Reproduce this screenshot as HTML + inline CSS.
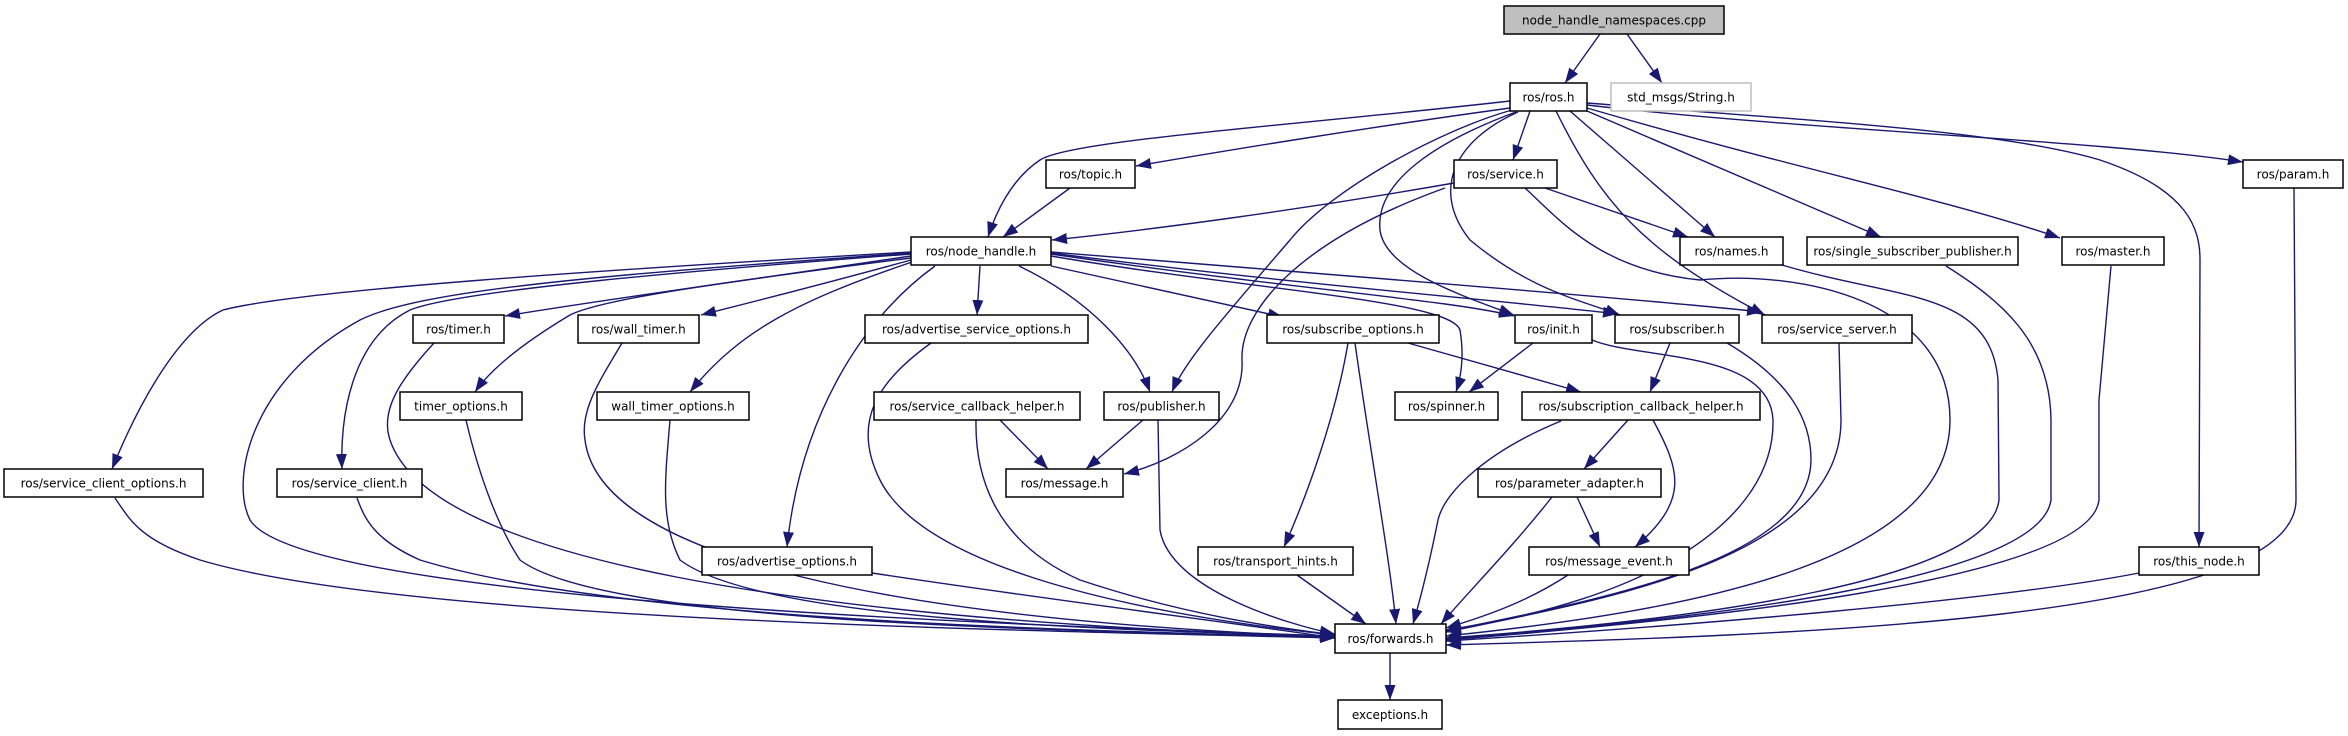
<!DOCTYPE html>
<html><head><meta charset="utf-8"><style>
html,body{margin:0;padding:0;background:#fff;}
svg{display:block;}
text{font-family:"DejaVu Sans","Liberation Sans",sans-serif;font-size:12px;fill:#000;text-anchor:middle;}
.e{fill:none;stroke:#191970;stroke-width:1.4;}
.b{fill:#fff;stroke:#000;stroke-width:1.5;}
</style></head><body>
<svg width="2348" height="736" viewBox="0 0 2348 736" xmlns="http://www.w3.org/2000/svg">
<defs><marker id="a" markerUnits="userSpaceOnUse" markerWidth="16" markerHeight="11" refX="15" refY="5.5" orient="auto"><path d="M0,0 L15,5.5 L0,11 z" fill="#191970"/></marker></defs>
<g class="e" marker-end="url(#a)">
<path d="M1600,34 L1565,83"/>
<path d="M1627,34 L1662,83"/>
<path d="M1510,101 C1300,125 1070,140 1040,160 C1010,180 995,215 988,237"/>
<path d="M1510,108 C1350,130 1230,150 1136,166"/>
<path d="M1070,188 L1003,237"/>
<path d="M1454,183 C1300,210 1150,230 1052,240"/>
<path d="M1530,111 L1513,160"/>
<path d="M1512,110 C1440,130 1330,190 1290,240 C1230,310 1185,360 1172,392"/>
<path d="M1516,112 C1440,140 1375,180 1380,230 C1385,270 1460,295 1514,315"/>
<path d="M1445,188 C1300,240 1240,310 1242,360 C1245,420 1180,460 1124,474"/>
<path d="M1518,112 C1455,140 1430,190 1470,240 C1530,290 1580,300 1620,315"/>
<path d="M1545,188 L1688,237"/>
<path d="M1570,111 L1715,237"/>
<path d="M1556,111 C1600,200 1640,250 1765,315"/>
<path d="M1587,111 L1881,237"/>
<path d="M1587,108 C1800,170 1950,200 2060,238"/>
<path d="M1587,105 C1800,130 2100,140 2243,162"/>
<path d="M1587,103 C1800,120 2000,130 2100,160 C2190,190 2200,230 2200,260 L2199,547"/>
<path d="M1525,188 C1560,220 1600,270 1700,280 C1800,270 1950,300 1950,420 C1950,560 1700,610 1446,636"/>
<path d="M1782,265 C1900,300 1990,290 1998,380 L1999,500 C1990,580 1700,620 1446,638"/>
<path d="M1946,266 C2000,300 2050,340 2051,420 L2051,500 C2040,580 1700,620 1446,639"/>
<path d="M2111,266 L2099,400 L2099,500 C2090,580 1700,620 1446,640"/>
<path d="M2139,573 C2000,600 1700,625 1446,641"/>
<path d="M2294,188 L2296,500 C2296,620 1800,635 1446,645"/>
<path d="M1839,343 L1841,420 C1841,560 1600,600 1446,632"/>
<path d="M1727,343 C1790,380 1811,420 1811,460 C1810,560 1600,600 1446,631"/>
<path d="M1592,340 C1640,360 1770,350 1773,420 C1775,520 1650,600 1446,630"/>
<path d="M1561,421 C1490,450 1445,490 1438,520 C1430,560 1420,600 1413,624"/>
<path d="M1355,343 C1370,450 1390,560 1396,624"/>
<path d="M1348,343 C1335,420 1305,500 1284,547"/>
<path d="M1408,343 L1581,392"/>
<path d="M1533,343 L1469,392"/>
<path d="M1670,343 L1650,392"/>
<path d="M1051,256 C1250,290 1450,300 1460,330 C1465,360 1460,380 1456,392"/>
<path d="M1051,254 C1300,290 1450,300 1514,316"/>
<path d="M1051,253 C1300,285 1500,300 1618,314"/>
<path d="M1051,252 C1400,280 1650,300 1762,312"/>
<path d="M1051,266 L1283,317"/>
<path d="M1019,266 C1090,300 1135,350 1150,392"/>
<path d="M980,266 L977,315"/>
<path d="M935,266 C860,320 800,420 787,547"/>
<path d="M912,262 C800,300 740,330 690,392"/>
<path d="M911,260 C820,285 760,300 701,315"/>
<path d="M911,258 C700,285 600,300 570,315 C520,345 490,370 475,392"/>
<path d="M911,256 C750,280 600,300 505,316"/>
<path d="M911,254 C700,270 460,290 410,310 C350,340 340,420 342,469"/>
<path d="M911,252 C600,270 300,290 223,310 C180,330 140,400 112,469"/>
<path d="M911,253 C600,275 420,290 360,320 C250,380 230,480 250,520 C300,600 1000,625 1335,636"/>
<path d="M434,343 C400,380 380,410 390,440 C430,560 800,620 1335,637"/>
<path d="M622,343 C600,380 580,410 585,440 C600,560 900,620 1335,637"/>
<path d="M466,420 C480,480 500,530 520,560 C600,620 1000,630 1335,637"/>
<path d="M670,420 C665,480 660,520 680,560 C760,620 1100,630 1335,636"/>
<path d="M115,498 C130,520 140,540 200,560 C400,620 1000,630 1335,638"/>
<path d="M357,498 C365,520 375,540 420,560 C600,615 1000,630 1335,637"/>
<path d="M931,343 C880,380 850,420 880,480 C920,560 1100,610 1335,635"/>
<path d="M872,573 C1050,600 1250,625 1335,638"/>
<path d="M976,420 C975,470 990,540 1080,580 C1200,620 1300,630 1335,635"/>
<path d="M1158,420 L1160,530 C1170,590 1290,625 1335,634"/>
<path d="M1000,420 L1048,469"/>
<path d="M1143,420 L1086,469"/>
<path d="M1297,575 L1366,624"/>
<path d="M1577,497 L1600,547"/>
<path d="M1653,420 C1680,470 1690,500 1635,547"/>
<path d="M1628,420 L1584,469"/>
<path d="M1552,497 C1510,550 1470,590 1441,624"/>
<path d="M1568,575 C1530,600 1490,615 1446,628"/>
<path d="M1390,653 L1390,700"/>
</g>
<g>
<rect x="1504" y="6" width="220" height="28" fill="#bfbfbf" stroke="#000" stroke-width="1.5"/><text x="1614" y="24.5">node_handle_namespaces.cpp</text>
<rect x="1611" y="83" width="140" height="28" fill="#fff" stroke="#bfbfbf" stroke-width="1.5"/><text x="1681" y="101.5">std_msgs/String.h</text>
</g>
<g>
<rect class="b" x="1510" y="83" width="77" height="28"/><text x="1548.5" y="101.5">ros/ros.h</text>
<rect class="b" x="1046" y="160" width="89" height="28"/><text x="1090.5" y="178.5">ros/topic.h</text>
<rect class="b" x="1454" y="160" width="103" height="28"/><text x="1505.5" y="178.5">ros/service.h</text>
<rect class="b" x="2243" y="160" width="100" height="28"/><text x="2293" y="178.5">ros/param.h</text>
<rect class="b" x="911" y="237" width="140" height="28"/><text x="981" y="255.5">ros/node_handle.h</text>
<rect class="b" x="1680" y="237" width="103" height="28"/><text x="1731.5" y="255.5">ros/names.h</text>
<rect class="b" x="1807" y="237" width="211" height="28"/><text x="1912.5" y="255.5">ros/single_subscriber_publisher.h</text>
<rect class="b" x="2062" y="237" width="102" height="28"/><text x="2113" y="255.5">ros/master.h</text>
<rect class="b" x="413" y="315" width="91" height="28"/><text x="458.5" y="333.5">ros/timer.h</text>
<rect class="b" x="578" y="315" width="121" height="28"/><text x="638.5" y="333.5">ros/wall_timer.h</text>
<rect class="b" x="865" y="315" width="223" height="28"/><text x="976.5" y="333.5">ros/advertise_service_options.h</text>
<rect class="b" x="1267" y="315" width="172" height="28"/><text x="1353" y="333.5">ros/subscribe_options.h</text>
<rect class="b" x="1515" y="315" width="77" height="28"/><text x="1553.5" y="333.5">ros/init.h</text>
<rect class="b" x="1615" y="315" width="124" height="28"/><text x="1677" y="333.5">ros/subscriber.h</text>
<rect class="b" x="1762" y="315" width="150" height="28"/><text x="1837" y="333.5">ros/service_server.h</text>
<rect class="b" x="400" y="392" width="122" height="28"/><text x="461" y="410.5">timer_options.h</text>
<rect class="b" x="597" y="392" width="152" height="28"/><text x="673" y="410.5">wall_timer_options.h</text>
<rect class="b" x="874" y="392" width="206" height="28"/><text x="977" y="410.5">ros/service_callback_helper.h</text>
<rect class="b" x="1104" y="392" width="115" height="28"/><text x="1161.5" y="410.5">ros/publisher.h</text>
<rect class="b" x="1395" y="392" width="103" height="28"/><text x="1446.5" y="410.5">ros/spinner.h</text>
<rect class="b" x="1522" y="392" width="238" height="28"/><text x="1641" y="410.5">ros/subscription_callback_helper.h</text>
<rect class="b" x="4" y="469" width="199" height="28"/><text x="103.5" y="487.5">ros/service_client_options.h</text>
<rect class="b" x="277" y="469" width="145" height="28"/><text x="349.5" y="487.5">ros/service_client.h</text>
<rect class="b" x="1006" y="469" width="117" height="28"/><text x="1064.5" y="487.5">ros/message.h</text>
<rect class="b" x="1478" y="469" width="183" height="28"/><text x="1569.5" y="487.5">ros/parameter_adapter.h</text>
<rect class="b" x="702" y="547" width="170" height="28"/><text x="787" y="565.5">ros/advertise_options.h</text>
<rect class="b" x="1198" y="547" width="155" height="28"/><text x="1275.5" y="565.5">ros/transport_hints.h</text>
<rect class="b" x="1529" y="547" width="160" height="28"/><text x="1609" y="565.5">ros/message_event.h</text>
<rect class="b" x="2139" y="547" width="120" height="28"/><text x="2199" y="565.5">ros/this_node.h</text>
<rect class="b" x="1335" y="624" width="111" height="29"/><text x="1390.5" y="643">ros/forwards.h</text>
<rect class="b" x="1338" y="700" width="104" height="29"/><text x="1390" y="719">exceptions.h</text>
</g>
</svg>
</body></html>
